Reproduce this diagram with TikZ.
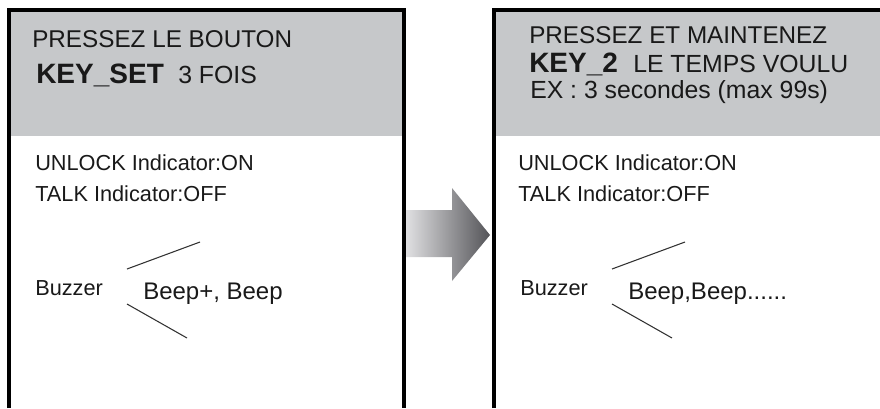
\documentclass[tikz,border=0pt]{standalone}
\usepackage{fontspec}
\setmainfont{Liberation Sans}
\usetikzlibrary{positioning}
\definecolor{headgray}{RGB}{198,200,202}
\definecolor{arrowlight}{RGB}{224,224,226}
\definecolor{arrowdark}{RGB}{84,84,88}
\definecolor{tickgray}{RGB}{50,50,50}

\begin{document}
\begin{tikzpicture}[x=0.75pt,y=-0.75pt,
		txt/.style={anchor=base west,inner sep=0pt,text=black!90},
		head/.style={txt,font=\fontsize{18.2}{20}\selectfont},
		keyname/.style={txt,font=\fontsize{21}{23}\selectfont\bfseries},
		sub/.style={txt,font=\fontsize{18.6}{20}\selectfont},
		body/.style={txt,font=\fontsize{16.3}{18}\selectfont},
		beep/.style={txt,font=\fontsize{18}{20}\selectfont},
		panel/.style={line width=3pt},
		tick/.style={draw=tickgray,line width=0.8pt}]
		\useasboundingbox (0,0) rectangle (880,408);

		% left panel
		\fill[headgray] (9,9.5) rectangle (403.5,136);
		\draw[panel] (9,408) -- (9,9.5) -- (403.5,9.5) -- (403.5,408);

		\node[head] (ltitle) at (32,47) {PRESSEZ LE BOUTON};
		\node[keyname] (lkey) at (36,83) {KEY\_SET};
		\node[sub] (lcount) at (178,83) {3 FOIS};

		\node[body] (lunlock) at (35,170) {UNLOCK Indicator:ON};
		\node[body] (ltalk) at (35,201) {TALK Indicator:OFF};
		\node[body] (lbuzzer) at (35,295) {Buzzer};
		\node[beep] (lbeep) at (143,299) {Beep+, Beep};

		\coordinate (lup) at (127,269);
		\coordinate (lupend) at (200,242);
		\coordinate (llow) at (127,304);
		\coordinate (llowend) at (187,338);
		\draw[tick] (lup) -- (lupend);
		\draw[tick] (llow) -- (llowend);

		% arrow between the panels
		\shade[left color=arrowlight, right color=arrowdark]
			(406,210) -- (452,210) -- (452,188) -- (490,235) -- (452,281) -- (452,257) -- (406,257) -- cycle;

		% right panel
		\fill[headgray] (493.5,9.5) rectangle (880,136);
		\draw[panel] (493.5,408) -- (493.5,9.5) -- (880,9.5);

		\node[head] (rtitle) at (529,43) {PRESSEZ ET MAINTENEZ};
		\node[keyname] (rkey) at (529,72) {KEY\_2};
		\node[sub] (rtime) at (633,72) {LE TEMPS VOULU};
		\node[sub] (rex) at (530,98) {EX : 3 secondes (max 99s)};

		\node[body] (runlock) at (518,170) {UNLOCK Indicator:ON};
		\node[body] (rtalk) at (518,201) {TALK Indicator:OFF};
		\node[body] (rbuzzer) at (520,295) {Buzzer};
		\node[beep] (rbeep) at (628,299) {Beep,Beep......};

		\coordinate (rup) at (612,269);
		\coordinate (rupend) at (685,242);
		\coordinate (rlow) at (612,304);
		\coordinate (rlowend) at (672,338);
		\draw[tick] (rup) -- (rupend);
		\draw[tick] (rlow) -- (rlowend);
	\end{tikzpicture}
\end{document}
